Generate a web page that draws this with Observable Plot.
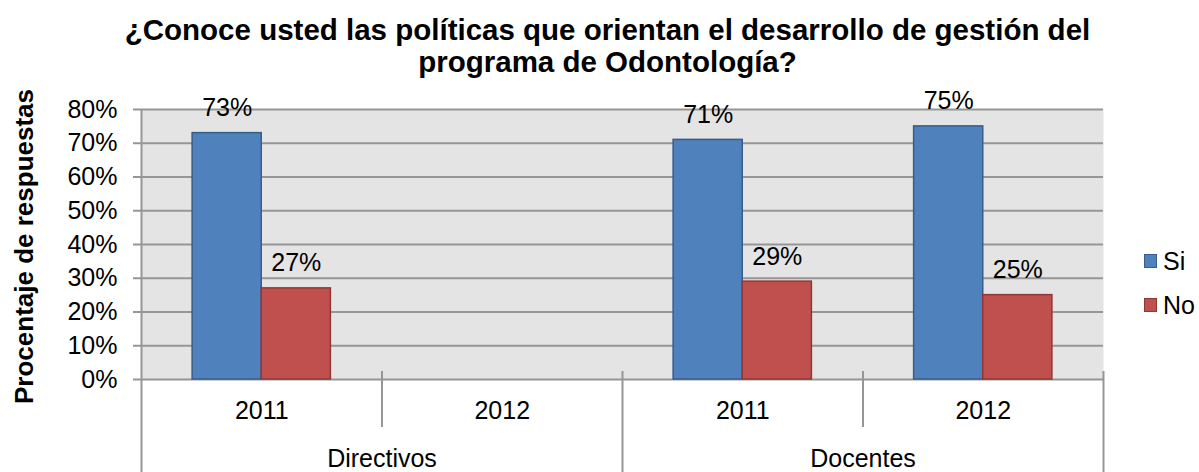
<!DOCTYPE html>
<html>
<head>
<meta charset="utf-8">
<script src="https://cdn.jsdelivr.net/npm/d3@7"></script>
<script src="https://cdn.jsdelivr.net/npm/@observablehq/plot@0.6"></script>
<style>
  body { margin: 0; background: #fff; font-family: "Liberation Sans", Arial, sans-serif; color: #000; }
  #wrap { position: relative; width: 1199px; height: 472px; overflow: hidden; }
  #title { height: 80px; box-sizing: border-box; padding-top: 14px; padding-left: 16px; text-align: center;
           font-weight: bold; font-size: 29.5px; line-height: 32px; white-space: nowrap; }
  #chart svg { display: block; }
  #legend { position: absolute; left: 1144px; top: 239px; font-size: 25px; }
  .item { display: flex; align-items: center; height: 44px; }
  .sw { width: 11px; height: 12px; border: 1px solid; margin-right: 6px; }
</style>
</head>
<body>
<div id="wrap">
  <div id="title">¿Conoce usted las políticas que orientan el desarrollo de gestión del<br>programa de Odontología?</div>
  <div id="chart"></div>
  <div id="legend"></div>
</div>
<script>
// ---- data ----
const groups = ["Directivos", "Directivos", "Docentes", "Docentes"];
const years = ["2011", "2012", "2011", "2012"];
const seriesNames = ["Si", "No"];
const si = [73, null, 71, 75];
const no = [27, null, 29, 25];
const yTicks = [0, 10, 20, 30, 40, 50, 60, 70, 80];
const yTitle = "Procentaje de respuestas";
const fills = {Si: "#4f81bd", No: "#c0504d"};
const strokes = {Si: "#385d8a", No: "#8c3836"};

// ---- table ----
const values = {Si: si, No: no};
const rows = [];
years.forEach((y, i) => {
  seriesNames.forEach(s => {
    const v = values[s][i];
    if (v != null) rows.push({slot: i, series: s, value: v});
  });
});
const barW = 0.2875;
const offs = {Si: 0.5 - barW, No: 0.5};
const centers = years.map((_, i) => i + 0.5);

// group labels & boundaries
const groupNames = [...new Set(groups)];
const groupLabels = groupNames.map(g => {
  const idx = groups.map((d, i) => d === g ? i : null).filter(d => d != null);
  return {name: g, center: (d3.min(idx) + d3.max(idx) + 1) / 2};
});
const outer = [], inner = [];
for (let i = 1; i <= groups.length; i++) {
  if (i === groups.length || groups[i] !== groups[i - 1]) outer.push(i); else inner.push(i);
}
const gridColor = "#969696";

const chart = Plot.plot({
  width: 1199,
  height: 392,
  marginLeft: 141,
  marginRight: 96,
  marginTop: 29,
  marginBottom: 93,
  x: {domain: [0, years.length]},
  y: {domain: [0, 80]},
  color: {type: "identity"},
  style: {fontFamily: "'Liberation Sans', Arial, sans-serif", fontSize: "25px", color: "#000", background: "transparent", overflow: "visible"},
  marks: [
    Plot.frame({fill: "#e4e4e4", stroke: "none"}),
    Plot.ruleY(yTicks, {stroke: gridColor, strokeWidth: 2, insetLeft: -8}),
    Plot.rect(rows, {
      x1: d => d.slot + offs[d.series],
      x2: d => d.slot + offs[d.series] + barW,
      y1: 0, y2: "value",
      fill: d => fills[d.series],
      stroke: d => strokes[d.series],
      strokeWidth: 1.5
    }),
    Plot.text(rows, {
      x: d => d.slot + offs[d.series] + barW / 2,
      y: "value",
      text: d => d.value + "%",
      dy: -25, fontSize: 25, fill: "#000"
    }),
    Plot.axisY({ticks: yTicks, tickFormat: d => d + "%", tickSize: 0, tickPadding: 24, fontSize: 25, fill: "#000", label: null}),
    Plot.axisX({ticks: centers, tickFormat: d => years[Math.floor(d)], tickSize: 0, tickPadding: 22, fontSize: 25, fill: "#000", label: null}),
    Plot.ruleX([0], {stroke: gridColor, strokeWidth: 2, insetBottom: -93}),
    Plot.ruleX(outer, {stroke: gridColor, strokeWidth: 2, insetTop: 262, insetBottom: -93}),
    Plot.ruleX(inner, {stroke: gridColor, strokeWidth: 2, insetTop: 262, insetBottom: -48}),
    Plot.text(groupLabels, {x: "center", text: "name", frameAnchor: "bottom", dy: 87, fontSize: 25, fill: "#000"}),
    Plot.text([yTitle], {text: d => d, frameAnchor: "left", textAnchor: "middle", rotate: -90, dx: -117, dy: 2, fontWeight: "bold", fontSize: 26, fill: "#000"})
  ]
});
document.getElementById("chart").appendChild(chart);

// legend
const legend = document.getElementById("legend");
seriesNames.forEach(s => {
  const item = document.createElement("div");
  item.className = "item";
  const sw = document.createElement("div");
  sw.className = "sw";
  sw.style.background = fills[s];
  sw.style.borderColor = strokes[s];
  const t = document.createElement("span");
  t.textContent = s;
  item.appendChild(sw); item.appendChild(t);
  legend.appendChild(item);
});
</script>
</body>
</html>
